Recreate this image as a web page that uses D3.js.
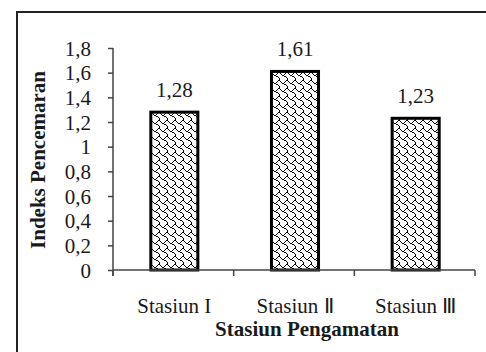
<!DOCTYPE html>
<html>
<head>
<meta charset="utf-8">
<script src="https://cdn.jsdelivr.net/npm/d3@7"></script>
<style>
  html, body { margin: 0; padding: 0; background: #fff; }
  svg { display: block; }
  text { font-family: "Liberation Serif", "Times New Roman", serif; fill: #1a1a1a; }
</style>
</head>
<body>
<svg id="chart" width="486" height="352"></svg>
<script>
// Pollution index per observation station
const categories = ["Stasiun I", "Stasiun \u2161", "Stasiun \u2162"];
const values = [1.28, 1.61, 1.23];
const valueLabels = ["1,28", "1,61", "1,23"];
const yTicks = [0, 0.2, 0.4, 0.6, 0.8, 1, 1.2, 1.4, 1.6, 1.8];
const yTitle = "Indeks Pencemaran";
const xTitle = "Stasiun Pengamatan";

const svg = d3.select("#chart");

// shingle hatch pattern (8x8 bitmap)
const shingleRows = [
  "......XX",
  "X....X..",
  ".X..X...",
  "..XX....",
  "....XX..",
  "......X.",
  ".......X",
  ".......X"
];
const pat = svg.append("defs").append("pattern")
  .attr("id", "shingle")
  .attr("patternUnits", "userSpaceOnUse")
  .attr("width", 8).attr("height", 8);
pat.append("rect").attr("width", 8).attr("height", 8).attr("fill", "#fff");
shingleRows.forEach((row, r) => {
  row.split("").forEach((c, col) => {
    if (c === "X") {
      pat.append("rect").attr("x", col).attr("y", r)
        .attr("width", 1).attr("height", 1).attr("fill", "#000");
    }
  });
});

// outer frame
svg.append("rect")
  .attr("x", 17).attr("y", 12).attr("width", 520).attr("height", 400)
  .attr("fill", "none").attr("stroke", "#222").attr("stroke-width", 2);

const plot = { left: 113, right: 475, top: 48, bottom: 270 };

const x = d3.scaleBand().domain(categories).range([plot.left, plot.right]).padding(0);
const y = d3.scaleLinear().domain([0, 1.8]).range([plot.bottom, plot.top]);

// y axis
const yAxis = svg.append("g")
  .attr("transform", `translate(${plot.left},0)`)
  .call(d3.axisLeft(y).tickValues(yTicks).tickSize(5).tickPadding(17)
    .tickFormat(d => String(d).replace(".", ",")));
yAxis.select(".domain").attr("stroke", "#444").attr("stroke-width", 1.5)
  .attr("d", `M0,${y(1.8)}V${plot.bottom + 6}`);
yAxis.selectAll(".tick line").attr("stroke", "#444").attr("stroke-width", 1.5);
yAxis.selectAll(".tick text")
  .style("font-family", "'Liberation Serif', serif")
  .attr("font-size", 21).attr("fill", "#1a1a1a").attr("dy", "0.34em");

// bars
const barW = x.bandwidth() * 0.39;
svg.append("g").selectAll("rect")
  .data(values)
  .join("rect")
  .attr("x", (d, i) => x(categories[i]) + x.bandwidth() / 2 - barW / 2 + 1)
  .attr("y", d => y(d))
  .attr("width", barW)
  .attr("height", d => y(0) - y(d))
  .attr("fill", "url(#shingle)")
  .attr("stroke", "#000")
  .attr("stroke-width", 3);

// x axis line and category boundary ticks
const xg = svg.append("g");
xg.append("line")
  .attr("x1", plot.left).attr("x2", plot.right)
  .attr("y1", y(0)).attr("y2", y(0))
  .attr("stroke", "#444").attr("stroke-width", 1.5);
const bounds = categories.map(c => x(c) + x.bandwidth()).concat([x(categories[0])]);
xg.selectAll("line.b")
  .data(bounds)
  .join("line")
  .attr("class", "b")
  .attr("x1", d => d).attr("x2", d => d)
  .attr("y1", y(0)).attr("y2", y(0) + 6)
  .attr("stroke", "#444").attr("stroke-width", 1.5);

// category labels
xg.selectAll("text")
  .data(categories)
  .join("text")
  .attr("x", d => x(d) + x.bandwidth() / 2 + 1)
  .attr("y", y(0) + 43)
  .attr("text-anchor", "middle")
  .attr("font-size", 21)
  .text(d => d);

// value labels
svg.append("g").selectAll("text")
  .data(values)
  .join("text")
  .attr("x", (d, i) => x(categories[i]) + x.bandwidth() / 2 + 1)
  .attr("y", d => y(d) - 15)
  .attr("text-anchor", "middle")
  .attr("font-size", 21)
  .text((d, i) => valueLabels[i]);

// axis titles
svg.append("text")
  .attr("x", 307).attr("y", 336)
  .attr("text-anchor", "middle")
  .attr("font-size", 21).attr("font-weight", "bold")
  .text(xTitle);

svg.append("text")
  .attr("transform", "translate(45,160) rotate(-90)")
  .attr("text-anchor", "middle")
  .attr("font-size", 21).attr("font-weight", "bold")
  .text(yTitle);
</script>
</body>
</html>
